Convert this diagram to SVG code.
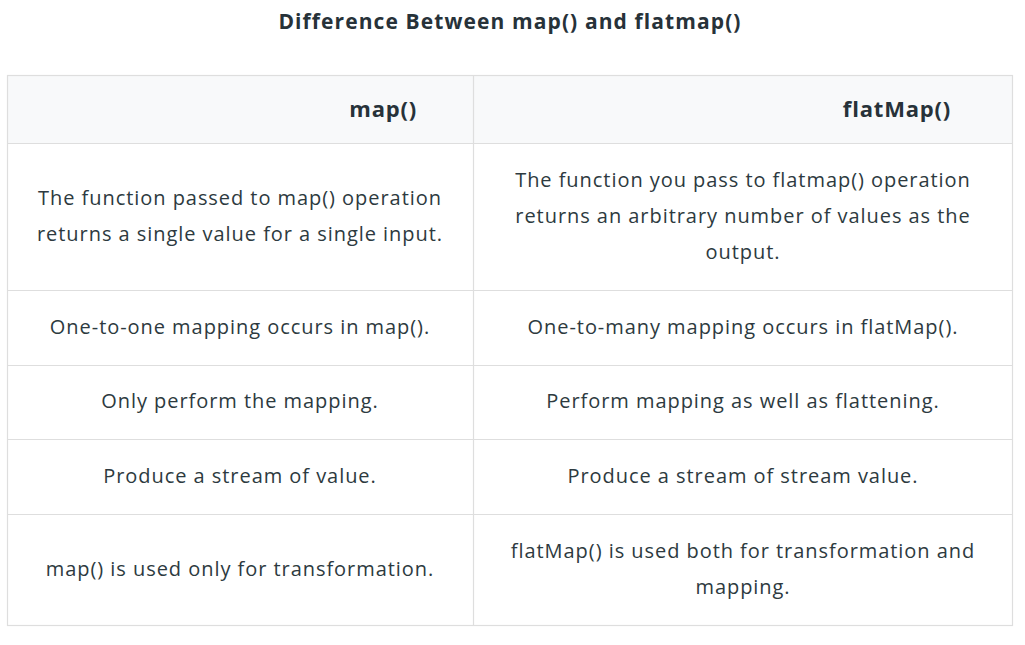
<svg xmlns="http://www.w3.org/2000/svg" width="1025" height="645" viewBox="0 0 1025 645">
<style>
.t{font-family:"Open Sans","Liberation Sans",sans-serif;font-size:20px;letter-spacing:0.95px;fill:#2d3a40;text-anchor:middle}
.h{font-family:"Open Sans","Liberation Sans",sans-serif;font-size:22px;letter-spacing:0.8px;font-weight:bold;fill:#273239;text-anchor:end}
.ti{font-family:"Open Sans","Liberation Sans",sans-serif;font-size:21px;letter-spacing:1.1px;font-weight:bold;fill:#273239;text-anchor:middle}
.g{stroke:#dedede;stroke-width:1.2;fill:none}
</style>
<rect width="1025" height="645" fill="#ffffff"/>
<text class="ti" x="510" y="29">Difference Between map() and flatmap()</text>
<g id="table">
<rect x="7.5" y="75.5" width="1005" height="68" fill="#f8f9fa"/>
<rect class="g" x="7.5" y="75.5" width="1005" height="550"/>
<line class="g" x1="473.5" y1="75.5" x2="473.5" y2="625.5"/>
<line class="g" x1="7.5" y1="143.5" x2="1012.5" y2="143.5"/>
<line class="g" x1="7.5" y1="290.5" x2="1012.5" y2="290.5"/>
<line class="g" x1="7.5" y1="365.5" x2="1012.5" y2="365.5"/>
<line class="g" x1="7.5" y1="439.5" x2="1012.5" y2="439.5"/>
<line class="g" x1="7.5" y1="514.5" x2="1012.5" y2="514.5"/>
</g>
<g id="header">
<text class="h" x="417" y="117">map()</text>
<text class="h" x="951" y="117">flatMap()</text>
</g>
<g id="row1">
<text class="t" x="240" y="205">The function passed to map() operation</text>
<text class="t" x="240" y="241">returns a single value for a single input.</text>
<text class="t" x="743" y="187">The function you pass to flatmap() operation</text>
<text class="t" x="743" y="223">returns an arbitrary number of values as the</text>
<text class="t" x="743" y="259">output.</text>
</g>
<g id="row2">
<text class="t" x="240" y="334">One-to-one mapping occurs in map().</text>
<text class="t" x="743" y="334">One-to-many mapping occurs in flatMap().</text>
</g>
<g id="row3">
<text class="t" x="240" y="408">Only perform the mapping.</text>
<text class="t" x="743" y="408">Perform mapping as well as flattening.</text>
</g>
<g id="row4">
<text class="t" x="240" y="483">Produce a stream of value.</text>
<text class="t" x="743" y="483">Produce a stream of stream value.</text>
</g>
<g id="row5">
<text class="t" x="240" y="576">map() is used only for transformation.</text>
<text class="t" x="743" y="558">flatMap() is used both for transformation and</text>
<text class="t" x="743" y="594">mapping.</text>
</g>
</svg>
